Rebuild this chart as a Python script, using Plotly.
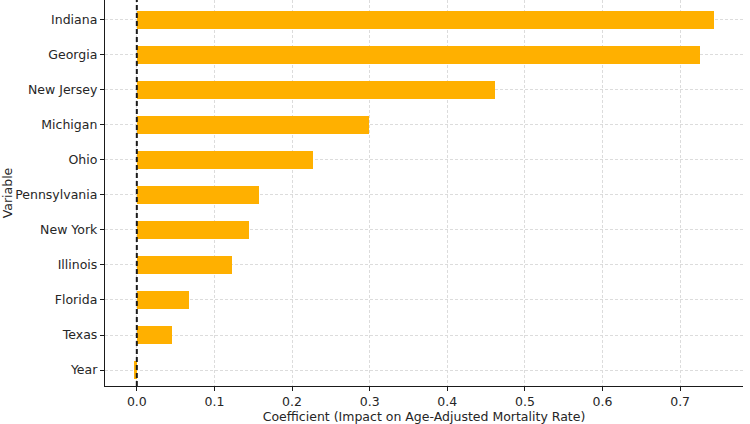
import plotly.graph_objects as go

variables = ["Year", "Texas", "Florida", "Illinois", "New York", "Pennsylvania",
             "Ohio", "Michigan", "New Jersey", "Georgia", "Indiana"]
coefficients = [-0.004, 0.045, 0.067, 0.122, 0.144, 0.158, 0.227, 0.299, 0.461, 0.726, 0.744]
x_ticks = [0.0, 0.1, 0.2, 0.3, 0.4, 0.5, 0.6, 0.7]
x_tick_labels = ["0.0", "0.1", "0.2", "0.3", "0.4", "0.5", "0.6", "0.7"]

font = dict(family="DejaVu Sans", size=12.5, color="#262626")

fig = go.Figure()
fig.add_trace(go.Bar(
    x=coefficients, y=list(range(len(variables))), orientation="h",
    width=0.5, marker=dict(color="#FFB000", line=dict(width=0)),
))
fig.add_vline(x=0, line=dict(color="#1a1a1a", width=2, dash="5px,3px"))

fig.update_layout(
    width=750, height=424,
    margin=dict(l=105, r=7, t=0, b=38),
    plot_bgcolor="white", paper_bgcolor="white",
    font=font, showlegend=False, bargap=0,
)
fig.update_xaxes(
    range=[-0.041, 0.781], tickvals=x_ticks, ticktext=x_tick_labels,
    showgrid=True, gridcolor="#dcdcdc", griddash="3px,2px", gridwidth=0.8,
    zeroline=False, showline=True, linecolor="#1a1a1a", linewidth=1.3,
    ticks="outside", ticklen=4, tickcolor="#1a1a1a",
    title=dict(text="Coefficient (Impact on Age-Adjusted Mortality Rate)", standoff=4, font=font),
)
fig.update_yaxes(
    range=[-0.457, 10.57], tickvals=list(range(len(variables))), ticktext=variables,
    showgrid=True, gridcolor="#dcdcdc", griddash="3px,2px", gridwidth=0.8,
    zeroline=False, showline=True, linecolor="#1a1a1a", linewidth=1.3,
    ticks="outside", ticklen=4, tickcolor="#1a1a1a",
    title=dict(text="Variable", standoff=6, font=font),
)

fig.write_html("out.html")
